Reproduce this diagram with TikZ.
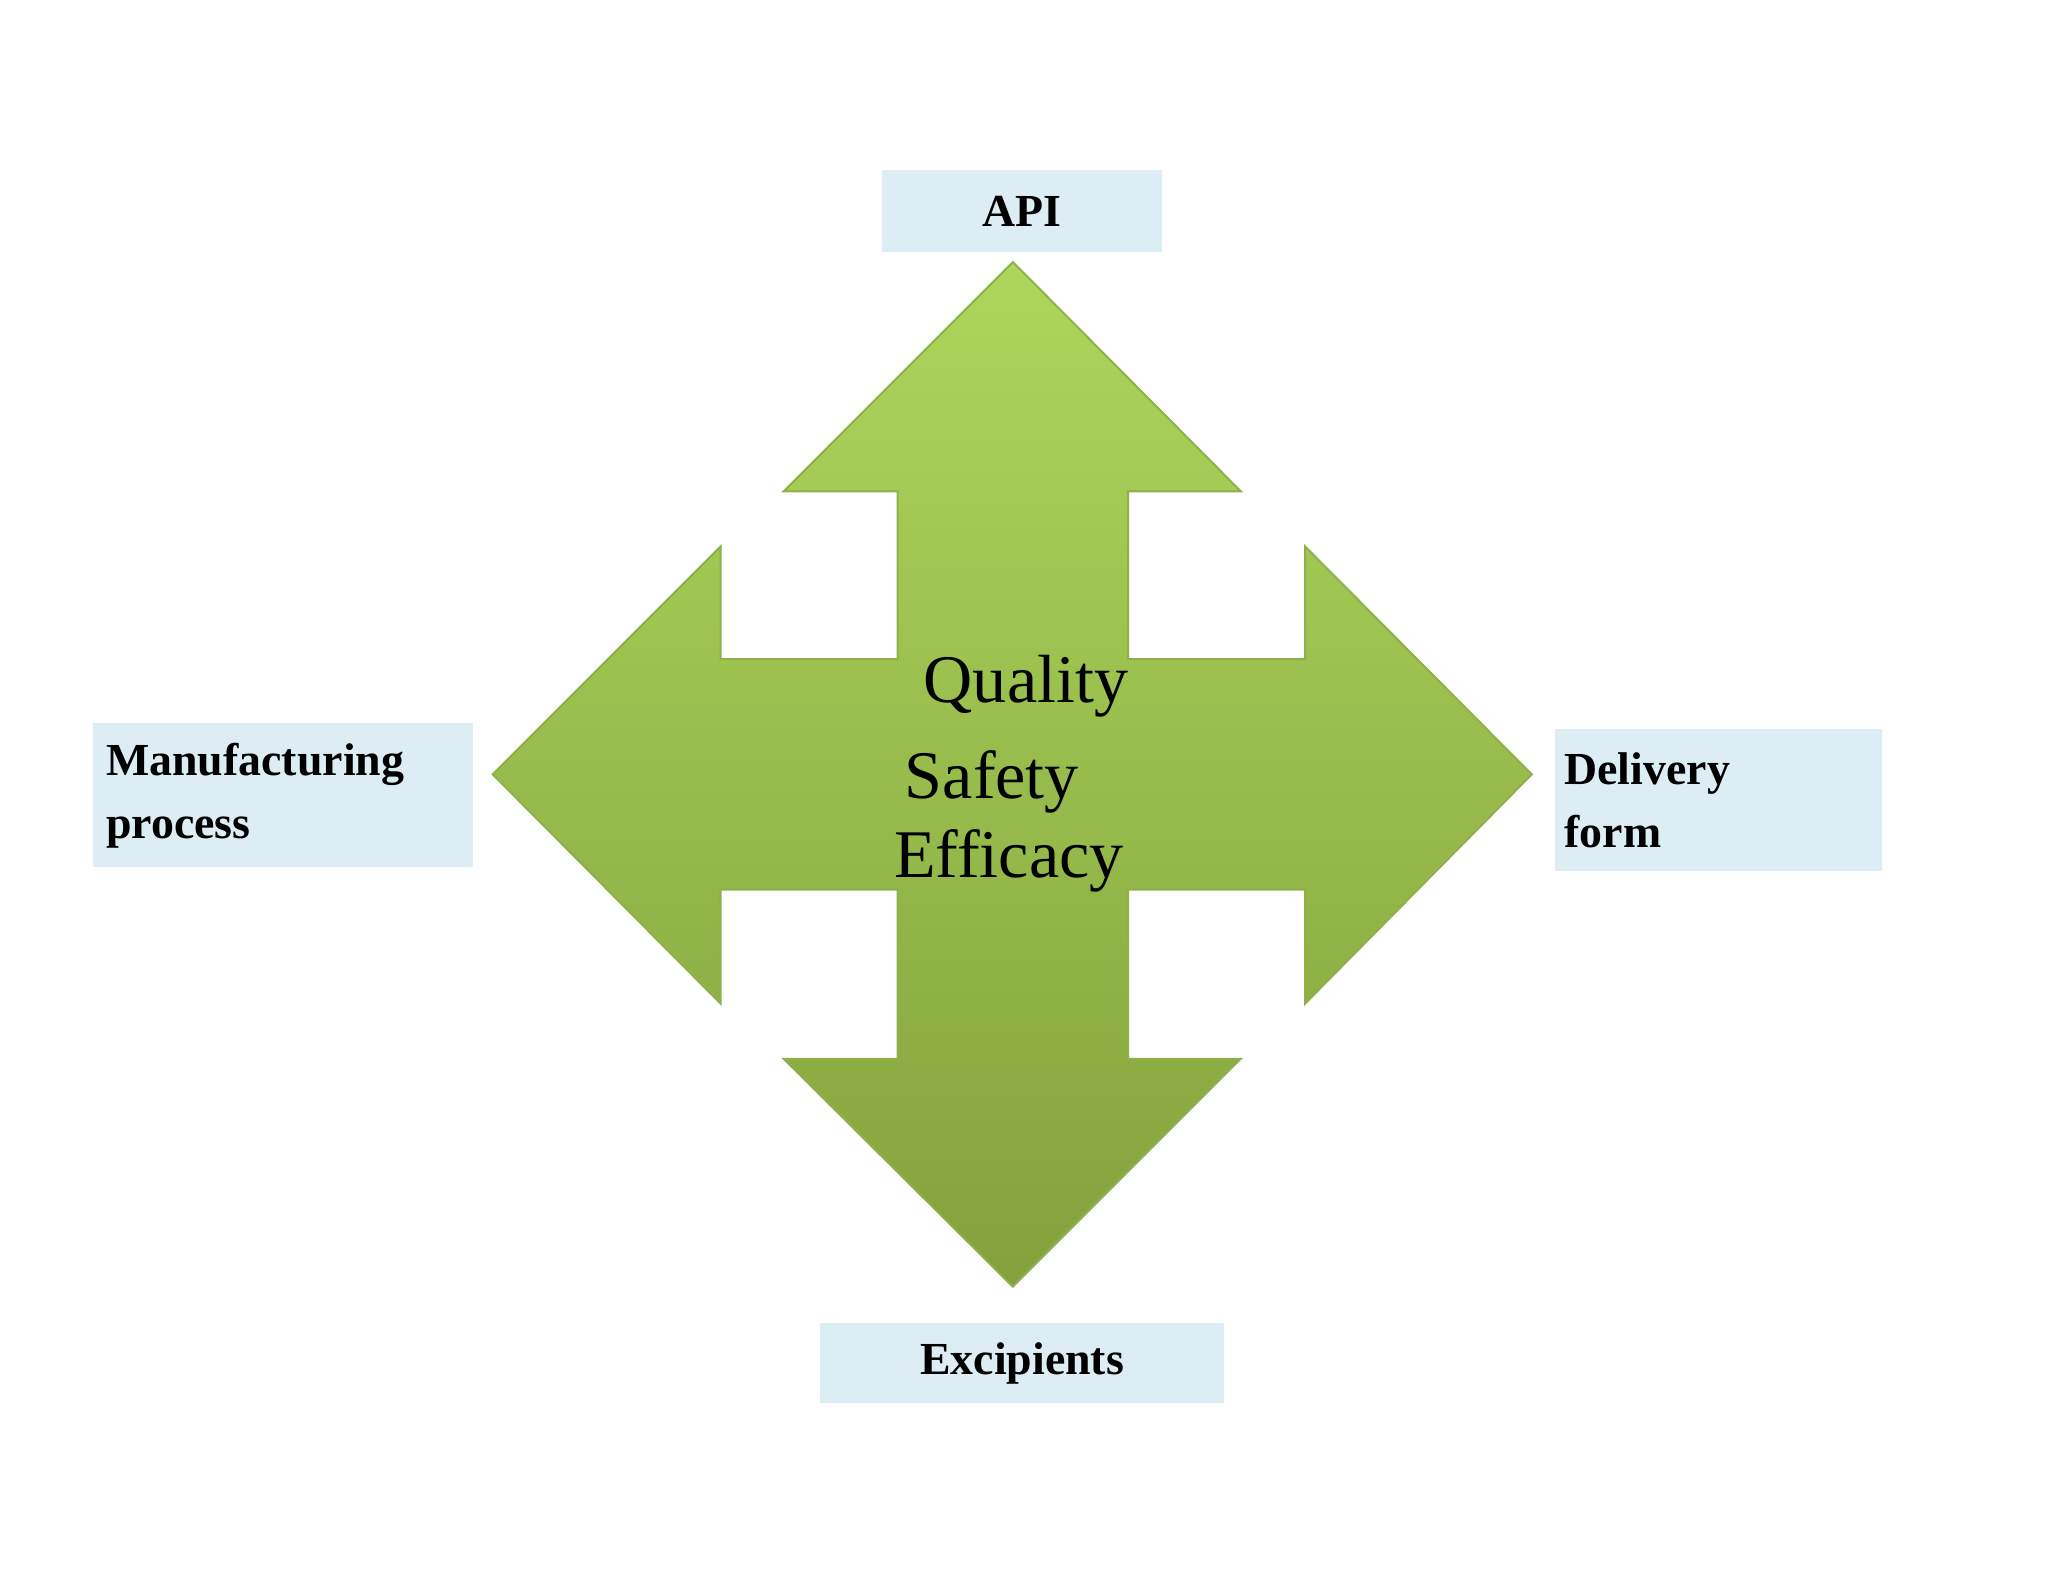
\documentclass[tikz,border=0pt]{standalone}
\usepackage{fontspec}
\setmainfont{Liberation Serif}
\definecolor{boxfill}{HTML}{DCEEF3}
\definecolor{gtop}{HTML}{ADD65C}
\definecolor{gbot}{HTML}{82A23C}
\definecolor{gedge}{HTML}{8DB04A}
\begin{document}
\begin{tikzpicture}[x=1pt,y=-1pt,
  lbl/.style={fill=boxfill,inner sep=0pt,font=\bfseries\fontsize{35}{48}\selectfont,align=left},
  ctr/.style={font=\fontsize{52}{60}\selectfont,inner sep=0pt}]
\useasboundingbox[fill=white] (0,0) rectangle (1563,1207);
\path[top color=gtop,bottom color=gbot,draw=gedge,line width=1.5pt]
 (773,200) -- (947,375) -- (861,375) -- (861,503) -- (996,503) -- (996,417)
 -- (1169,591) -- (996,766) -- (996,679) -- (861,679) -- (861,808) -- (947,808)
 -- (773,982) -- (598,808) -- (685,808) -- (685,679) -- (550,679) -- (550,766)
 -- (376,591) -- (550,417) -- (550,503) -- (685,503) -- (685,375) -- (598,375) -- cycle;
\node[lbl,minimum width=214pt,minimum height=62pt,align=center] (api) at (780,161) {API};
\node[lbl,minimum width=308pt,minimum height=61pt,align=center] (exc) at (780,1040.5) {Excipients};
\node[lbl,minimum width=290pt,minimum height=110pt,text width=270pt] (man) at (216,607) {Manufacturing\\process};
\node[lbl,minimum width=249pt,minimum height=109pt,text width=235pt] (del) at (1311.5,610.5) {Delivery\\form};
\node[ctr] (q) at (783,524) {Quality};
\node[ctr] (s) at (757,597) {Safety};
\node[ctr] (e) at (770,657) {Efficacy};
\end{tikzpicture}
\end{document}
